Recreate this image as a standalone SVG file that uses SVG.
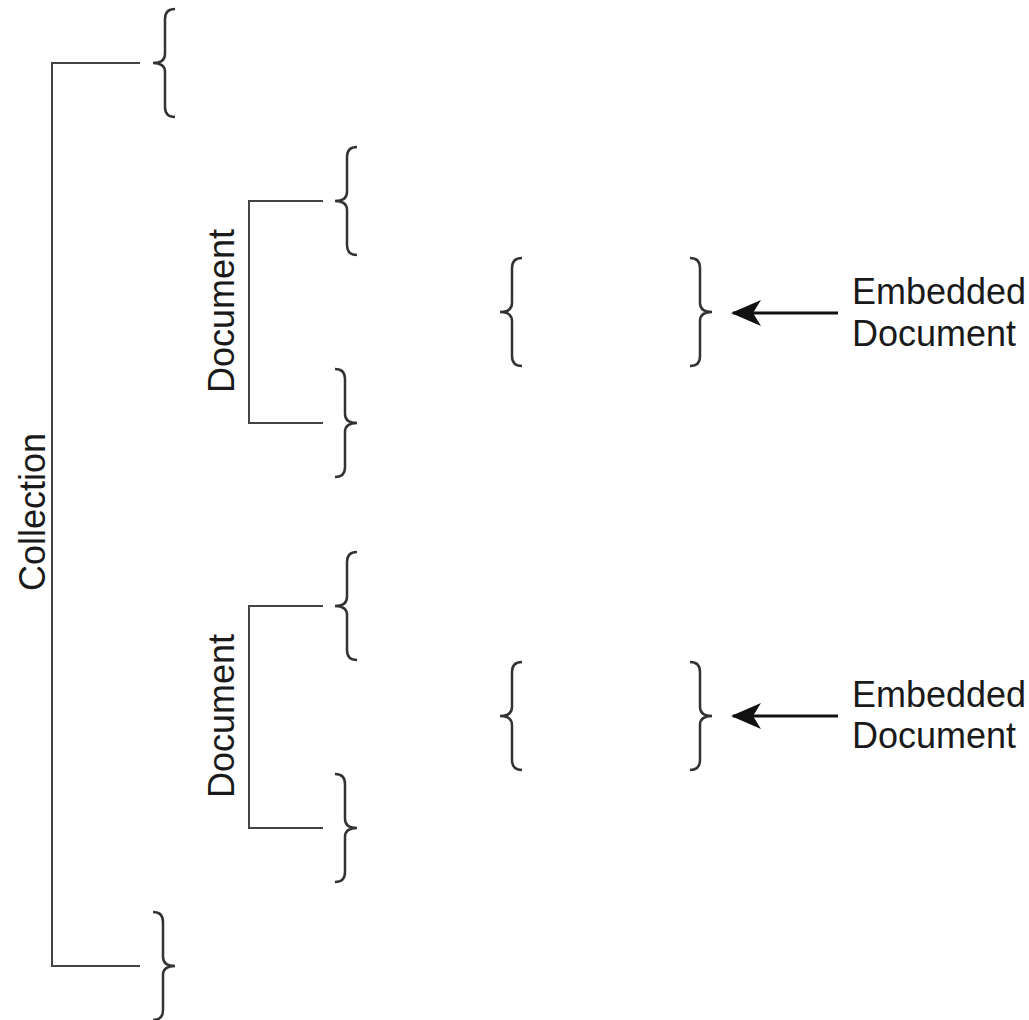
<svg xmlns="http://www.w3.org/2000/svg" width="1029" height="1020" viewBox="0 0 1029 1020">
  <style>
    .bracket { fill: none; stroke: #444; stroke-width: 2; }
    .brace { fill: none; stroke: #333; stroke-width: 2.5; stroke-linejoin: miter; }
    .arrow { fill: none; stroke: #111; stroke-width: 3; }
    .label { font-family: "Liberation Sans", Arial, sans-serif; font-size: 36px; fill: #1a1a1a; }
  </style>
  <defs>
    <!-- opening brace, tip at the origin -->
    <path id="lbrace" d="M22,-54 Q12,-54 12,-44 L12,-9 Q12,0 0,0 Q12,0 12,9 L12,44 Q12,54 22,54"/>
    <!-- notched arrowhead, tip at the line's end -->
    <marker id="head" viewBox="0 0 30 26" refX="28" refY="13" markerWidth="30" markerHeight="26" markerUnits="userSpaceOnUse" orient="auto">
      <path d="M30,13 L0,0 L8,13 L0,26 Z" fill="#111"/>
    </marker>
  </defs>
  <rect width="1029" height="1020" fill="#fff"/>

  <g id="collection">
    <path class="bracket" d="M140,63 H52 V966 H140"/>
    <text class="label" transform="translate(45,512) rotate(-90)" text-anchor="middle">Collection</text>
    <use href="#lbrace" class="brace" transform="translate(153,63)"/>
    <use href="#lbrace" class="brace" transform="translate(175,966) scale(-1,1)"/>
  </g>

  <g id="document-1">
    <path class="bracket" d="M323,201 H249 V423 H323"/>
    <text class="label" transform="translate(234,311) rotate(-90)" text-anchor="middle">Document</text>
    <use href="#lbrace" class="brace" transform="translate(335,201)"/>
    <use href="#lbrace" class="brace" transform="translate(357,423) scale(-1,1)"/>
  </g>

  <g id="embedded-1">
    <use href="#lbrace" class="brace" transform="translate(500,312)"/>
    <use href="#lbrace" class="brace" transform="translate(712,312) scale(-1,1)"/>
  </g>

  <g id="embedded-label-1">
    <text class="label" x="852" y="304">Embedded</text>
    <text class="label" x="852" y="346">Document</text>
  </g>

  <g id="document-2">
    <path class="bracket" d="M323,606 H249 V828 H323"/>
    <text class="label" transform="translate(234,716) rotate(-90)" text-anchor="middle">Document</text>
    <use href="#lbrace" class="brace" transform="translate(335,606)"/>
    <use href="#lbrace" class="brace" transform="translate(357,828) scale(-1,1)"/>
  </g>

  <g id="embedded-2">
    <use href="#lbrace" class="brace" transform="translate(500,716)"/>
    <use href="#lbrace" class="brace" transform="translate(712,716) scale(-1,1)"/>
  </g>

  <g id="embedded-label-2">
    <text class="label" x="852" y="707">Embedded</text>
    <text class="label" x="852" y="748">Document</text>
  </g>

  <g id="connectors">
    <line class="arrow" x1="838" y1="313" x2="733" y2="313" marker-end="url(#head)"/>
    <line class="arrow" x1="838" y1="716" x2="733" y2="716" marker-end="url(#head)"/>
  </g>
</svg>
